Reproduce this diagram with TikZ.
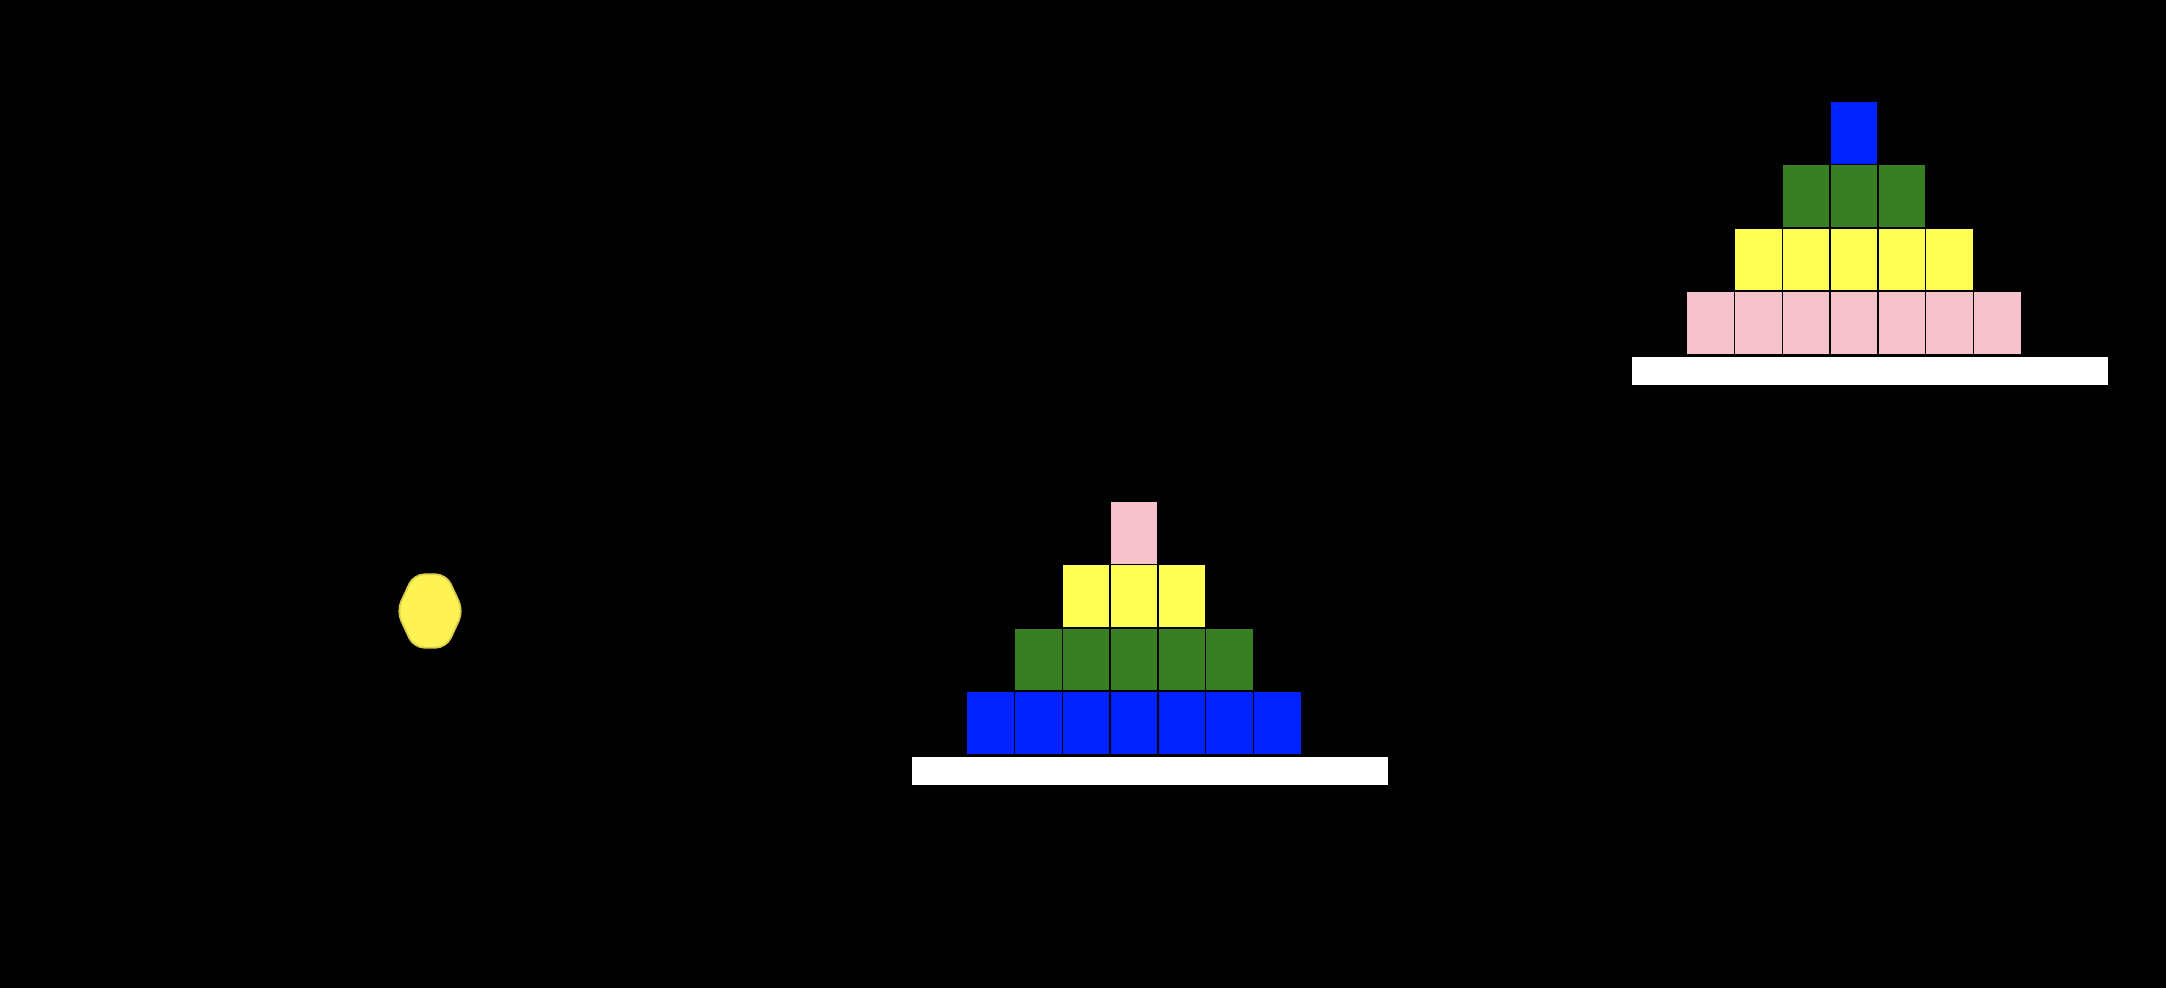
\documentclass[tikz,border=0pt]{standalone}
\usepackage{tikz}

\definecolor{cblue}{RGB}{0,34,255}
\definecolor{cgreen}{RGB}{56,126,34}
\definecolor{cyellow}{RGB}{255,254,85}
\definecolor{cpink}{RGB}{245,194,203}
\definecolor{hexyellow}{RGB}{255,242,85}

\tikzset{
  cell/.style={rectangle, draw=black, line width=0.4pt, inner sep=0pt,
    minimum width=0.478cm, minimum height=0.632cm},
  plate/.style={rectangle, draw=black, fill=white, line width=0.4pt, inner sep=0pt,
    minimum width=4.78cm, minimum height=0.30cm}
}

\begin{document}
\begin{tikzpicture}
% Background
\useasboundingbox (0,0) rectangle (21.66,9.87);
\fill[black] (-0.1,-0.1) rectangle (21.76,9.97);

% Yellow disc
\coordinate (disc) at (4.30,3.76);
\draw[fill=hexyellow, draw=hexyellow!85!black, line width=0.5pt, rounded corners=3pt]
    (disc) ++(-0.333,0) -- ++(0.17,0.367) -- ++(0.326,0) -- ++(0.17,-0.367)
    -- ++(-0.17,-0.367) -- ++(-0.326,0) -- cycle;

% First tower, on its plate
\node[plate] (plate1) at (11.50,2.16) {};
\foreach \r/\col/\last in {0/cblue/6, 1/cgreen/5, 2/cyellow/4, 3/cpink/3}
  \foreach \c in {\r,...,\last}
    \node[cell, fill=\col] (a-\r-\c) at (9.906+0.478*\c, 2.643+0.632*\r) {};

% Second tower, colours reversed
\node[plate] (plate2) at (18.70,6.16) {};
\foreach \r/\col/\last in {0/cpink/6, 1/cyellow/5, 2/cgreen/4, 3/cblue/3}
  \foreach \c in {\r,...,\last}
    \node[cell, fill=\col] (b-\r-\c) at (17.106+0.478*\c, 6.643+0.632*\r) {};
\end{tikzpicture}
\end{document}
